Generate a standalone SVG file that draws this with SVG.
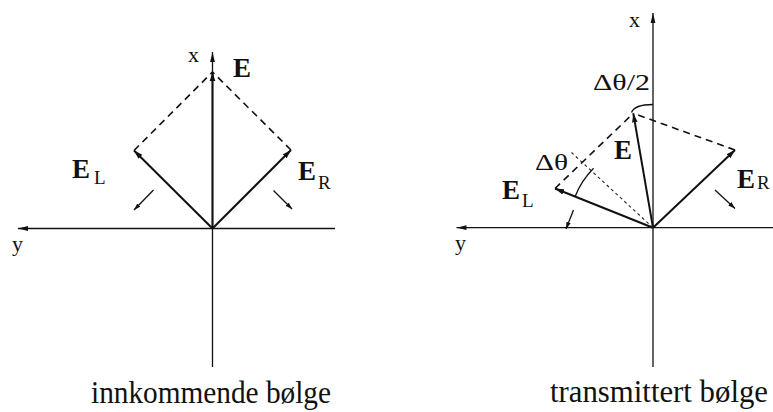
<svg xmlns="http://www.w3.org/2000/svg" width="773" height="412" viewBox="0 0 773 412">
<style>
.axis{stroke:#111;stroke-width:1.3;fill:none}
.vec{stroke:#111;stroke-width:2;fill:none}
.dash{stroke:#111;stroke-width:1.6;fill:none;stroke-dasharray:7 5}
.dot{stroke:#222;stroke-width:1.1;fill:none;stroke-dasharray:3 3}
.small{stroke:#111;stroke-width:1.3;fill:none}
.arc{stroke:#111;stroke-width:1.3;fill:none}
</style>
<defs>
<marker id="ax" markerUnits="userSpaceOnUse" markerWidth="11" markerHeight="6" refX="10" refY="3" orient="auto">
<path d="M0,0.6 L10,3 L0,5.4 z" fill="#111"/>
</marker>
<marker id="va" markerUnits="userSpaceOnUse" markerWidth="10" markerHeight="7" refX="9" refY="3.5" orient="auto">
<path d="M0,0.7 L9,3.5 L0,6.3 z" fill="#111"/>
</marker>
<marker id="sa" markerUnits="userSpaceOnUse" markerWidth="8" markerHeight="6" refX="7" refY="3" orient="auto">
<path d="M0,0.7 L7,3 L0,5.3 z" fill="#111"/>
</marker>
</defs>

<g id="left-diagram">
  <g id="left-axes">
    <line class="axis" x1="335" y1="228.5" x2="18" y2="228.5" marker-end="url(#ax)"/>
    <line class="axis" x1="212.5" y1="367" x2="212.5" y2="52" marker-end="url(#ax)"/>
  </g>
  <g id="left-connectors">
    <line class="vec" x1="212.5" y1="228.5" x2="212.5" y2="72" marker-end="url(#va)"/>
    <line class="vec" x1="212.5" y1="228.5" x2="134" y2="150.5" marker-end="url(#va)"/>
    <line class="vec" x1="212.5" y1="228.5" x2="291" y2="150" marker-end="url(#va)"/>
    <line class="dash" x1="134" y1="150.5" x2="212.5" y2="72"/>
    <line class="dash" x1="291" y1="150" x2="212.5" y2="72"/>
    <line class="small" x1="153.5" y1="190" x2="134" y2="210" marker-end="url(#sa)"/>
    <line class="small" x1="273.5" y1="190.5" x2="292" y2="209" marker-end="url(#sa)"/>
  </g>
  <g id="left-labels" fill="#111">
    <text font-family="Liberation Serif, serif" font-size="22" x="188" y="62">x</text>
    <text font-family="Liberation Serif, serif" font-size="27" font-weight="bold" x="233" y="77">E</text>
    <text font-family="Liberation Serif, serif" font-size="27" font-weight="bold" x="72" y="178">E</text>
    <text font-family="Liberation Serif, serif" font-size="19" x="94" y="184">L</text>
    <text font-family="Liberation Serif, serif" font-size="27" font-weight="bold" x="298" y="180">E</text>
    <text font-family="Liberation Serif, serif" font-size="19" x="318" y="189">R</text>
    <text font-family="Liberation Serif, serif" font-size="22" x="12" y="251">y</text>
    <text font-family="Liberation Serif, serif" font-size="31" x="211" y="403" text-anchor="middle" textLength="240" lengthAdjust="spacingAndGlyphs">innkommende bølge</text>
  </g>
</g>

<g id="right-diagram">
  <g id="right-axes">
    <line class="axis" x1="773" y1="227.7" x2="456.5" y2="227.7" marker-end="url(#ax)"/>
    <line class="axis" x1="653" y1="367" x2="653" y2="13" marker-end="url(#ax)"/>
  </g>
  <g id="right-connectors">
    <line class="vec" x1="653" y1="227.7" x2="633.3" y2="113.3" marker-end="url(#va)"/>
    <line class="vec" x1="653" y1="227.7" x2="555" y2="188.5" marker-end="url(#va)"/>
    <line class="vec" x1="653" y1="227.7" x2="735" y2="150" marker-end="url(#va)"/>
    <line class="dash" x1="555" y1="188.5" x2="633.3" y2="113.3"/>
    <line class="dash" x1="735" y1="150" x2="633.3" y2="113.3"/>
    <line class="dot" x1="653" y1="227.7" x2="571.5" y2="152.5"/>
    <path class="arc" d="M593.6,168.3 A84,84 0 0,0 575,196.7"/>
    <path class="arc" d="M631.5,112.5 C634,106 643,104.5 653,104.5"/>
    <line class="small" x1="573.5" y1="210" x2="566" y2="229" marker-end="url(#sa)"/>
    <line class="small" x1="715" y1="190" x2="735" y2="208.5" marker-end="url(#sa)"/>
  </g>
  <g id="right-labels" fill="#111">
    <text font-family="Liberation Serif, serif" font-size="22" x="629" y="27">x</text>
    <text font-family="Liberation Serif, serif" font-size="24" x="593" y="90" textLength="57" lengthAdjust="spacingAndGlyphs">Δθ/2</text>
    <text font-family="Liberation Serif, serif" font-size="24" x="535" y="170" textLength="33" lengthAdjust="spacingAndGlyphs">Δθ</text>
    <text font-family="Liberation Serif, serif" font-size="27" font-weight="bold" x="614" y="159">E</text>
    <text font-family="Liberation Serif, serif" font-size="27" font-weight="bold" x="502" y="199">E</text>
    <text font-family="Liberation Serif, serif" font-size="19" x="522" y="207">L</text>
    <text font-family="Liberation Serif, serif" font-size="27" font-weight="bold" x="737" y="188">E</text>
    <text font-family="Liberation Serif, serif" font-size="19" x="757" y="189">R</text>
    <text font-family="Liberation Serif, serif" font-size="22" x="455" y="250">y</text>
    <text font-family="Liberation Serif, serif" font-size="31" x="659" y="402" text-anchor="middle" textLength="218" lengthAdjust="spacingAndGlyphs">transmittert bølge</text>
  </g>
</g>
</svg>
